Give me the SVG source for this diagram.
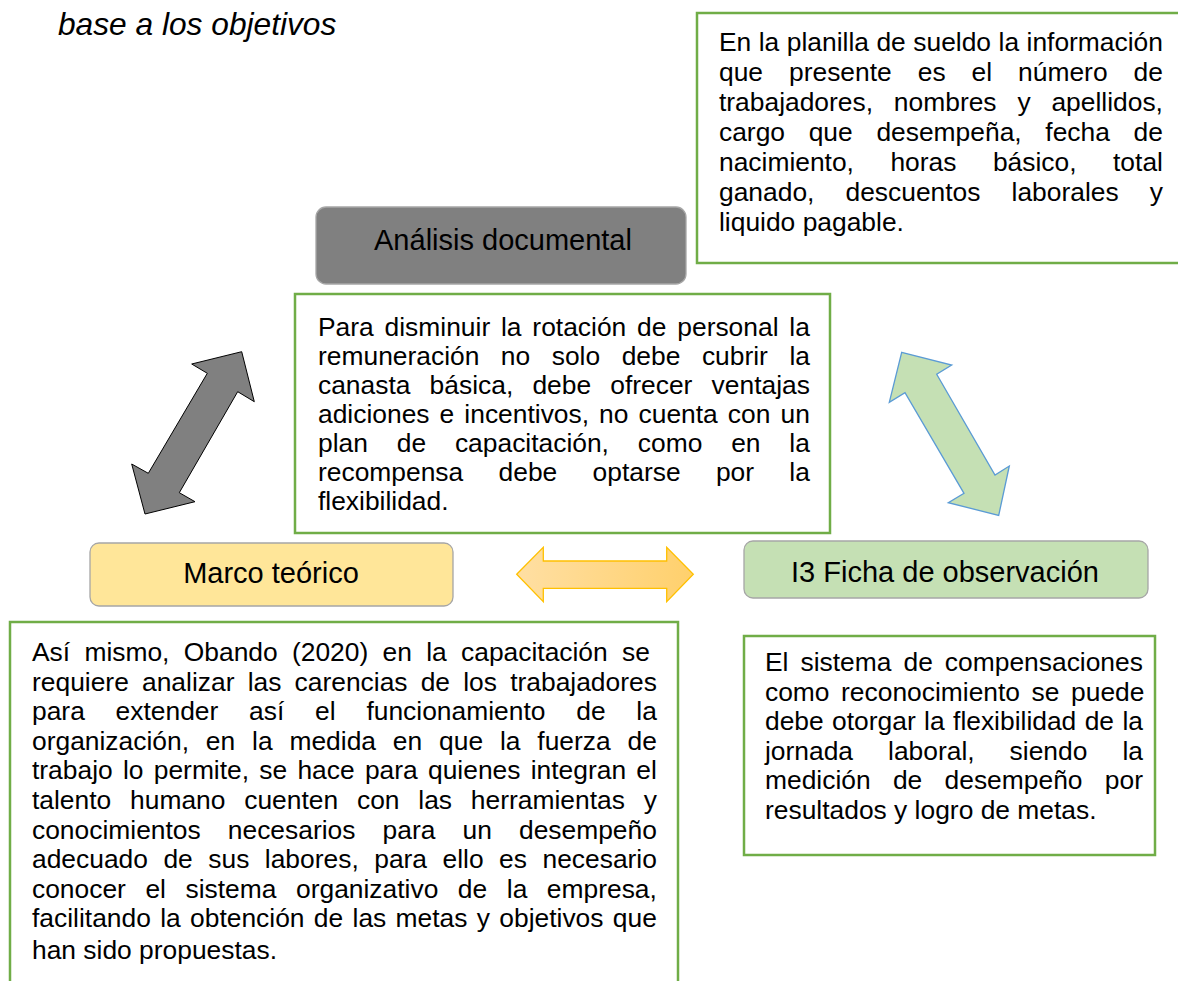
<svg xmlns="http://www.w3.org/2000/svg" width="1178" height="981" viewBox="0 0 1178 981">
<style>
.body{font-family:"Liberation Sans",Arial,sans-serif;font-size:26.4px;fill:#000;font-kerning:none}
.lbl{font-family:"Liberation Sans",Arial,sans-serif;font-size:29px;fill:#000;text-anchor:middle;font-kerning:none}
.gbox{fill:#fff;stroke:#70AD47;stroke-width:2.5}
.node{stroke:#A6A6A6;stroke-width:1.3}
</style>
<defs>
<linearGradient id="og" x1="0" y1="0" x2="1" y2="0">
<stop offset="0" stop-color="#FFDFA3"/>
<stop offset="1" stop-color="#FFD06C"/>
</linearGradient>
</defs>
<rect width="1178" height="981" fill="#fff"/>
<g id="title">
<text x="58" y="35" style="font-family:'Liberation Sans',Arial,sans-serif;font-size:31.7px;font-style:italic;font-kerning:none">base a los objetivos</text>
</g>
<g id="t-planilla">
<rect class="gbox" x="697" y="13" width="500" height="250"/>
<text class="body">
<tspan x="719" y="51" word-spacing="0.15">En la planilla de sueldo la información</tspan>
<tspan x="719" y="81" word-spacing="18.65">que presente es el número de</tspan>
<tspan x="719" y="111" word-spacing="13.5">trabajadores, nombres y apellidos,</tspan>
<tspan x="719" y="141" word-spacing="16.34">cargo que desempeña, fecha de</tspan>
<tspan x="719" y="171" word-spacing="29.15">nacimiento, horas básico, total</tspan>
<tspan x="719" y="201" word-spacing="23.75">ganado, descuentos laborales y</tspan>
<tspan x="719" y="231">liquido pagable.</tspan>
</text>
</g>
<g id="n-analisis">
<rect class="node" x="316" y="207" width="370" height="77" rx="10" fill="#808080"/>
<text class="lbl" x="503" y="250">Análisis documental</text>
</g>
<g id="t-remuneracion">
<rect class="gbox" x="295" y="294" width="535" height="239"/>
<text class="body">
<tspan x="318" y="336" word-spacing="3.5">Para disminuir la rotación de personal la</tspan>
<tspan x="318" y="365" word-spacing="14.18">remuneración no solo debe cubrir la</tspan>
<tspan x="318" y="394" word-spacing="11.84">canasta básica, debe ofrecer ventajas</tspan>
<tspan x="318" y="423" word-spacing="2.75">adiciones e incentivos, no cuenta con un</tspan>
<tspan x="318" y="452" word-spacing="21.5">plan de capacitación, como en la</tspan>
<tspan x="318" y="481" word-spacing="27.98">recompensa debe optarse por la</tspan>
<tspan x="318" y="510">flexibilidad.</tspan>
</text>
</g>
<g id="n-marco">
<rect class="node" x="90" y="543" width="363" height="63" rx="9" fill="#FFE699"/>
<text class="lbl" x="271" y="583">Marco teórico</text>
</g>
<g id="n-ficha">
<rect class="node" x="744" y="541" width="404" height="57" rx="9" fill="#C5E0B4"/>
<text class="lbl" x="945" y="582">I3 Ficha de observación</text>
</g>
<g id="t-obando">
<rect class="gbox" x="10" y="622" width="668" height="380"/>
<text class="body">
<tspan x="32" y="661" word-spacing="6.96">Así mismo, Obando (2020) en la capacitación se</tspan>
<tspan x="32" y="690.6" word-spacing="5.86">requiere analizar las carencias de los trabajadores</tspan>
<tspan x="32" y="720.2" word-spacing="23.46">para extender así el funcionamiento de la</tspan>
<tspan x="32" y="749.8" word-spacing="9.52">organización, en la medida en que la fuerza de</tspan>
<tspan x="32" y="779.4" word-spacing="2.92">trabajo lo permite, se hace para quienes integran el</tspan>
<tspan x="32" y="809" word-spacing="11.48">talento humano cuenten con las herramientas y</tspan>
<tspan x="32" y="838.6" word-spacing="19.79">conocimientos necesarios para un desempeño</tspan>
<tspan x="32" y="868.2" word-spacing="8.16">adecuado de sus labores, para ello es necesario</tspan>
<tspan x="32" y="897.8" word-spacing="12.22">conocer el sistema organizativo de la empresa,</tspan>
<tspan x="32" y="927.4" word-spacing="2.0">facilitando la obtención de las metas y objetivos que</tspan>
<tspan x="32" y="959">han sido propuestas.</tspan>
</text>
</g>
<g id="t-compensaciones">
<rect class="gbox" x="744" y="636" width="411" height="219"/>
<text class="body">
<tspan x="765" y="671" word-spacing="4.71">El sistema de compensaciones</tspan>
<tspan x="765" y="700.5" word-spacing="4.22">como reconocimiento se puede</tspan>
<tspan x="765" y="730" word-spacing="1.06">debe otorgar la flexibilidad de la</tspan>
<tspan x="765" y="759.5" word-spacing="27.68">jornada laboral, siendo la</tspan>
<tspan x="765" y="789" word-spacing="14.97">medición de desempeño por</tspan>
<tspan x="765" y="818.5">resultados y logro de metas.</tspan>
</text>
</g>
<g id="connectors">
<polygon points="241.7,351.7 254.3,401.7 237.7,391.7 179.3,492.7 195,501.7 145,514 131.7,464 148.3,473.3 207.3,373.3 191.7,364" fill="#808080" stroke="#000" stroke-width="1"/>
<polygon points="901.7,352.3 951.7,365 936.7,374.3 995,475 1009.3,466 998.7,515.4 948.3,502.7 964,493.3 905,392.7 889.3,402.3" fill="#C5E0B4" stroke="#5B9BD5" stroke-width="1.3"/>
<polygon points="516.7,574.3 543.3,547.3 543.3,561 666.7,561 666.7,547.3 693.3,574.3 666.7,601.7 666.7,588.3 543.3,588.3 543.3,601.7" fill="url(#og)" stroke="#FFC000" stroke-width="1.3"/>
</g>
</svg>
